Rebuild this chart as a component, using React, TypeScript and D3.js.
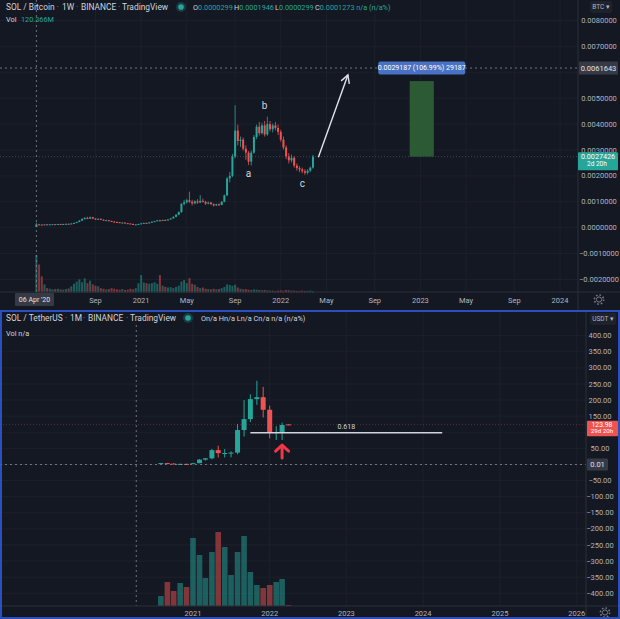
import React from "react";
import * as d3 from "d3";

// ---------------- Top chart: SOL / Bitcoin, 1W (prices in satoshi = 1e-8 BTC) ----------------
const topFirstWeek = "2020-04-06";
const wOpen = [2990,12730,12000,11500,13000,12400,13200,13600,13100,14200,13800,14400,15000,14600,16200,18400,22000,27500,34000,38000,35000,40500,35000,33000,34500,31000,28500,29000,26000,23500,22000,21000,19000,19800,17500,16200,14500,12000,12800,14500,16800,18500,17200,20500,23000,25500,28500,26500,30000,28500,32000,36000,42000,50000,60000,92000,98000,106000,100000,94000,102000,97000,104000,100000,93000,97000,91000,86000,90000,88000,100000,125000,190000,200000,275000,375000,335000,340000,305000,290000,255000,290000,350000,390000,365000,395000,360000,400000,380000,395000,385000,370000,340000,310000,275000,260000,270000,240000,230000,225000,218000,212000,220000,232000];
const wHigh = [19460,14500,13000,13800,14000,13600,14200,14500,14600,15200,14900,15600,16200,16800,19000,23000,29000,36000,41000,42000,43000,42000,37000,36000,35500,32500,30500,30000,27000,25000,23500,22000,20500,20500,18500,17000,15500,13500,15000,17500,19500,19800,21000,24000,26500,30000,30500,31000,31500,33000,37000,44000,52000,63000,95000,108000,112000,139000,108000,106000,110000,126000,112000,104000,101000,100000,94000,93000,94000,103000,128000,195000,215000,285000,473000,398000,352000,348000,318000,296000,298000,358000,398000,408000,405000,412000,429000,412000,402000,408000,398000,378000,352000,318000,288000,282000,276000,248000,238000,232000,226000,226000,236000,281000];
const wLow = [2990,10800,11000,11200,12000,11900,12600,12800,12700,13500,13100,13900,14200,14100,15800,17600,21000,26000,31000,33000,34000,33000,31000,31500,29500,27500,26500,25000,22500,21000,20000,18500,17500,17000,15800,14000,11000,11000,12200,13800,15500,16500,16800,19500,21500,24500,25000,25500,27500,27800,31000,35000,40000,48000,58000,86000,94000,96000,86000,90000,92000,95000,97000,88000,90000,88000,82000,84000,85000,87000,98000,122000,175000,195000,268000,318000,312000,298000,262000,242000,240000,286000,342000,356000,360000,352000,355000,372000,368000,376000,358000,332000,302000,265000,248000,252000,232000,220000,214000,210000,204000,206000,214000,228000];
const wClose = [12730,12000,11500,13000,12400,13200,13600,13100,14200,13800,14400,15000,14600,16200,18400,22000,27500,34000,38000,35000,40500,35000,33000,34500,31000,28500,29000,26000,23500,22000,21000,19000,19800,17500,16200,14500,12000,12800,14500,16800,18500,17200,20500,23000,25500,28500,26500,30000,28500,32000,36000,42000,50000,60000,92000,98000,106000,100000,94000,102000,97000,104000,100000,93000,97000,91000,86000,90000,88000,100000,125000,190000,200000,275000,375000,335000,340000,305000,290000,255000,290000,350000,390000,365000,395000,360000,400000,380000,395000,385000,370000,340000,310000,275000,260000,270000,240000,230000,225000,218000,212000,220000,232000,274260];
const wVolM = [120.366,90,52,26,14,12,10,11,12,10,9,11,13,20,28,35,42,33,45,30,38,26,22,20,14,12,10,11,14,12,10,9,11,8,9,12,10,14,30,56,32,30,28,30,33,28,56,22,18,16,17,14,18,22,35,40,30,46,28,25,18,14,16,12,11,10,12,10,11,14,18,26,24,22,25,16,12,10,11,9,8,10,9,8,7,8,7,6,6,5,6,7,6,8,7,6,6,5,5,6,5,5,6,4];

const topPriceTicks = [0.008, 0.007, 0.005, 0.004, 0.003, 0.002, 0.001, 0, -0.001, -0.002];
const topGridTicks = [0.008, 0.007, 0.006, 0.005, 0.004, 0.003, 0.002, 0.001, 0, -0.001, -0.002];
const topTimeTicks = ["2020-09-07","2021-01-04","2021-05-03","2021-09-06","2022-01-03","2022-05-02","2022-09-05","2023-01-02","2023-05-01","2023-09-04","2024-01-01"];
const topTimeLabels = ["Sep","2021","May","Sep","2022","May","Sep","2023","May","Sep","2024"];
const topLastPrice = 0.0027426;
const topCrossPrice = 0.0061643;
const topCrossDate = "2020-04-06";
const waveLabels = ["a", "b", "c"];
const waveDates = ["2021-10-11", "2021-11-22", "2022-02-28"];
const wavePrices = [0.0021, 0.0047, 0.0017];
const arrowDates = ["2022-04-11", "2022-06-27"];
const arrowPrices = [0.00272, 0.0059];
const targetDates = ["2022-12-05", "2023-02-06"];
const targetPrices = [0.0027426, 0.0056613];
const targetLabel = "0.0029187 (106.99%) 29187";

// ---------------- Bottom chart: SOL / TetherUS, 1M ----------------
const months = ["2020-08","2020-09","2020-10","2020-11","2020-12","2021-01","2021-02","2021-03","2021-04","2021-05","2021-06","2021-07","2021-08","2021-09","2021-10","2021-11","2021-12","2022-01","2022-02","2022-03","2022-04"];
const mOpen = [2.85,4.47,2.96,1.73,1.93,1.51,4.10,15.2,19.2,44.6,35.4,35.7,36.9,107,141,203,209,170,99,101,124.5];
const mHigh = [4.99,5.0,3.22,2.6,2.46,5.13,16.7,19.9,48.4,58.4,47.9,40.9,126,200,218,260,241,183,119,130,125.2];
const mLow = [2.5,2.33,1.6,1.26,1.05,1.46,3.96,12.1,15.9,21.6,21.7,22.3,31.6,87,132,185,146,81,76,76,123.4];
const mClose = [4.47,2.96,1.73,1.93,1.51,4.10,15.2,19.2,44.6,35.4,35.7,36.9,107,141,203,209,170,99,101,122.7,123.98];
const mVolM = [10,24,15,23,19,68,51,28,54,74,59,31,54,70,34,21,18,21,24,27,1];

const botPriceTicks = [400,350,300,250,200,150,50,-50,-100,-150,-200,-250,-300,-350,-400];
const botGridTicks = [400,350,300,250,200,150,100,50,0,-50,-100,-150,-200,-250,-300,-350,-400];
const botTimeTicks = ["2021-01-01","2022-01-01","2023-01-01","2024-01-01","2025-01-01","2026-01-01"];
const botTimeLabels = ["2021","2022","2023","2024","2025","2026"];
const botLastPrice = 123.98;
const botCrossPrice = 0.01;
const botCrossDate = "2020-04-06";
const fibLevel = 98.8;
const fibLabel = "0.618";
const fibDates = ["2021-10-01", "2024-04-01"];
const redArrowDate = "2022-03-01";
const redArrowPrices = [20, 60];

// ---------------- Styles ----------------
const BG = "#141823";
const GRID = "#1c202b";
const UP = "#26a69a";
const DOWN = "#ef5350";
const TXT = "#d1d4dc";
const AXT = "#b2b5be";
const FONT = "Roboto, 'Noto Sans', sans-serif";
const HFS = 8.4;

const pd = (s: string) => new Date(s.length === 7 ? s + "-01T00:00:00Z" : s + "T00:00:00Z");

function Gear({ x, y }: { x: number; y: number }) {
  return (
    <g transform={`translate(${x},${y})`}>
      <circle r={2.6} fill="none" stroke="#787b86" strokeWidth={1} />
      <circle r={4.6} fill="none" stroke="#787b86" strokeWidth={1.6} strokeDasharray="1.6 2" />
    </g>
  );
}

export default function App() {
  const xTop = d3.scaleUtc().domain([pd("2020-04-06"), pd("2022-01-01")]).range([36.4, 280]);
  const yTop = d3.scaleLinear().domain([0, 0.008]).range([227.7, 20.5]);
  const vTop = d3.scaleLinear().domain([0, d3.max(wVolM) as number]).range([292.5, 255]);
  const topPlotR = 578;
  const topPlotB = 292;

  const xBot = d3.scaleUtc().domain([pd("2021-01-01"), pd("2022-01-01")]).range([193, 269.7]);
  const yBot = d3.scaleLinear().domain([0, 400]).range([464.5, 335.7]);
  const vBot = d3.scaleLinear().domain([0, d3.max(mVolM) as number]).range([606, 532]);
  const botPlotR = 586;
  const botPlotT = 311;
  const botPlotB = 606;

  const weeks = wClose.map((_, i) => d3.utcDay.offset(pd(topFirstWeek), 7 * i));
  const sat = (v: number) => v * 1e-8;

  const fmt7 = (v: number) => (v < 0 ? "\u2212" : "") + Math.abs(v).toFixed(7);
  const fmt2 = (v: number) => (v < 0 ? "\u2212" : "") + Math.abs(v).toFixed(2);

  const ax0 = xTop(pd(arrowDates[0])), ay0 = yTop(arrowPrices[0]);
  const ax1 = xTop(pd(arrowDates[1])), ay1 = yTop(arrowPrices[1]);
  const ang = Math.atan2(ay1 - ay0, ax1 - ax0);
  const hl = 9, ha = 0.5;
  const h1 = [ax1 - hl * Math.cos(ang - ha), ay1 - hl * Math.sin(ang - ha)];
  const h2 = [ax1 - hl * Math.cos(ang + ha), ay1 - hl * Math.sin(ang + ha)];

  const tx0 = xTop(pd(targetDates[0])), tx1 = xTop(pd(targetDates[1]));
  const ty0 = yTop(targetPrices[1]), ty1 = yTop(targetPrices[0]);

  const rax = xBot(pd(redArrowDate));
  const rayB = yBot(redArrowPrices[0]), rayT = yBot(redArrowPrices[1]);

  const yLT = yTop(topLastPrice);
  const yLB = yBot(botLastPrice);

  return (
    <svg width={620} height={619} style={{ position: "absolute", left: 0, top: 0, background: BG }} fontFamily={FONT}>
      <rect x={0} y={0} width={620} height={619} fill={BG} />

      {/* ================= TOP CHART ================= */}
      <g>
        {topGridTicks.map((t) => (
          <line key={"tg" + t} x1={0} x2={topPlotR} y1={yTop(t)} y2={yTop(t)} stroke={GRID} />
        ))}
        {topTimeTicks.map((t) => (
          <line key={"tv" + t} x1={xTop(pd(t))} x2={xTop(pd(t))} y1={0} y2={topPlotB} stroke={GRID} />
        ))}
        <line x1={0} x2={topPlotR} y1={yLT} y2={yLT} stroke="#5d6470" strokeOpacity={0.6} strokeDasharray="1 2" />
        {wVolM.map((v, i) => {
          const x = xTop(weeks[i]);
          const up = wClose[i] >= wOpen[i];
          return <rect key={"wv" + i} x={x - 1} y={vTop(v)} width={2} height={vTop(0) - vTop(v)} fill={up ? UP : DOWN} fillOpacity={0.5} />;
        })}
        {wClose.map((c, i) => {
          const x = xTop(weeks[i]);
          const o = wOpen[i];
          const up = c >= o;
          const col = up ? UP : DOWN;
          const yT = yTop(sat(Math.max(o, c)));
          const yB = yTop(sat(Math.min(o, c)));
          return (
            <g key={"wc" + i}>
              <line x1={x} x2={x} y1={yTop(sat(wHigh[i]))} y2={yTop(sat(wLow[i]))} stroke={col} strokeWidth={0.8} />
              <rect x={x - 1} y={yT} width={2} height={Math.max(1, yB - yT)} fill={col} />
            </g>
          );
        })}
        {waveLabels.map((l, i) => (
          <text key={"wl" + l} x={xTop(pd(waveDates[i]))} y={yTop(wavePrices[i])} fill={TXT} fontSize={10} textAnchor="middle" dominantBaseline="central">{l}</text>
        ))}
        <line x1={ax0} y1={ay0} x2={ax1} y2={ay1} stroke="#e0e3eb" strokeWidth={1.4} />
        <polyline points={`${h1[0]},${h1[1]} ${ax1},${ay1} ${h2[0]},${h2[1]}`} fill="none" stroke="#e0e3eb" strokeWidth={1.4} />
        <rect x={tx0} y={ty0} width={tx1 - tx0} height={ty1 - ty0} fill="#2c5a35" />
        <line x1={0} x2={topPlotR} y1={yTop(topCrossPrice)} y2={yTop(topCrossPrice)} stroke="#9598a1" strokeOpacity={0.7} strokeDasharray="2 3" />
        <line x1={xTop(pd(topCrossDate))} x2={xTop(pd(topCrossDate))} y1={0} y2={topPlotB} stroke="#9598a1" strokeOpacity={0.7} strokeDasharray="2 3" />
        <rect x={(tx0 + tx1) / 2 - 43.5} y={yTop(topCrossPrice) - 6.5} width={87} height={13} rx={2} fill="#4a72c4" />
        <text x={(tx0 + tx1) / 2} y={yTop(topCrossPrice)} fill="#ffffff" fontSize={7} textAnchor="middle" dominantBaseline="central">{targetLabel}</text>

        <line x1={topPlotR} x2={topPlotR} y1={0} y2={310} stroke="#2a2e39" />
        <line x1={0} x2={620} y1={topPlotB} y2={topPlotB} stroke="#2a2e39" />

        {topPriceTicks.map((t) => (
          <text key={"tp" + t} x={599} y={yTop(t)} fill={AXT} fontSize={7.5} textAnchor="middle" dominantBaseline="central">{fmt7(t)}</text>
        ))}
        <rect x={579} y={yTop(topCrossPrice) - 6.5} width={39} height={13} fill="#363a45" />
        <text x={598.5} y={yTop(topCrossPrice)} fill="#e0e3eb" fontSize={7.5} textAnchor="middle" dominantBaseline="central">{fmt7(topCrossPrice)}</text>
        <rect x={578} y={yLT - 4.5} width={40} height={18} rx={1} fill={UP} />
        <text x={598} y={yLT} fill="#ffffff" fontSize={7.2} textAnchor="middle" dominantBaseline="central">{fmt7(topLastPrice)}</text>
        <text x={587} y={yLT + 7.5} fill="#ffffff" fontSize={6.5} dominantBaseline="central">2d 20h</text>
        <rect x={590} y={1} width={22} height={12} rx={2} fill="#1e222d" />
        <text x={601} y={7} fill={AXT} fontSize={6.5} textAnchor="middle" dominantBaseline="central">BTC ▾</text>

        {topTimeTicks.map((t, i) => (
          <text key={"tt" + t} x={xTop(pd(t))} y={300} fill={AXT} fontSize={7.5} textAnchor="middle" dominantBaseline="central">{topTimeLabels[i]}</text>
        ))}
        <rect x={15} y={293} width={39} height={13} rx={1} fill="#363a45" />
        <text x={34.5} y={299.5} fill="#e0e3eb" fontSize={7} textAnchor="middle" dominantBaseline="central">06 Apr '20</text>
        <Gear x={599} y={299.5} />

        <text x={6} y={7} fontSize={HFS} fill={TXT} dominantBaseline="central">SOL / Bitcoin</text>
        <text x={57.5} y={7} fontSize={HFS} fill="#787b86" textAnchor="middle" dominantBaseline="central">·</text>
        <text x={62} y={7} fontSize={HFS} fill={TXT} dominantBaseline="central">1W</text>
        <text x={77} y={7} fontSize={HFS} fill="#787b86" textAnchor="middle" dominantBaseline="central">·</text>
        <text x={81} y={7} fontSize={HFS} fill={TXT} dominantBaseline="central">BINANCE</text>
        <text x={119} y={7} fontSize={HFS} fill="#787b86" textAnchor="middle" dominantBaseline="central">·</text>
        <text x={122} y={7} fontSize={HFS} fill={TXT} dominantBaseline="central">TradingView</text>
        <circle cx={181} cy={7} r={5} fill={UP} fillOpacity={0.25} />
        <circle cx={181} cy={7} r={2.8} fill={UP} />
        <text y={7} fontSize={7.3} fill={TXT} dominantBaseline="central">
          <tspan x={193}>O</tspan><tspan fill={UP}>{fmt7(sat(wOpen[0]))}</tspan>
          <tspan x={234}>H</tspan><tspan fill={UP}>{fmt7(sat(wHigh[0]))}</tspan>
          <tspan x={275}>L</tspan><tspan fill={UP}>{fmt7(sat(wLow[0]))}</tspan>
          <tspan x={315}>C</tspan><tspan fill={UP}>{fmt7(sat(wClose[0]))}</tspan>
          <tspan fill={UP}> n/a (n/a%)</tspan>
        </text>
        <text x={6} y={19.5} fontSize={7.3} fill={TXT} dominantBaseline="central">Vol</text>
        <text x={21} y={19.5} fontSize={7.3} fill={UP} dominantBaseline="central">{wVolM[0].toFixed(3)}M</text>
      </g>

      {/* ================= BOTTOM CHART ================= */}
      <g>
        {botGridTicks.map((t) => (
          <line key={"bg" + t} x1={0} x2={botPlotR} y1={yBot(t)} y2={yBot(t)} stroke={GRID} />
        ))}
        {botTimeTicks.map((t) => (
          <line key={"bv" + t} x1={xBot(pd(t))} x2={xBot(pd(t))} y1={botPlotT} y2={botPlotB} stroke={GRID} />
        ))}
        <line x1={0} x2={botPlotR} y1={yLB} y2={yLB} stroke={DOWN} strokeOpacity={0.3} strokeDasharray="1 2" />
        {mVolM.map((v, i) => {
          const x = xBot(pd(months[i]));
          const up = mClose[i] >= mOpen[i];
          return <rect key={"mv" + i} x={x - 2.8} y={vBot(v)} width={5.6} height={vBot(0) - vBot(v)} fill={up ? UP : DOWN} fillOpacity={0.5} />;
        })}
        {mClose.map((c, i) => {
          const x = xBot(pd(months[i]));
          const o = mOpen[i];
          const up = c >= o;
          const col = up ? UP : DOWN;
          const yT = yBot(Math.max(o, c));
          const yB = yBot(Math.min(o, c));
          return (
            <g key={"mc" + i}>
              <line x1={x} x2={x} y1={yBot(mHigh[i])} y2={yBot(mLow[i])} stroke={col} strokeWidth={1} />
              <rect x={x - 2.5} y={yT} width={5} height={Math.max(1, yB - yT)} fill={col} />
            </g>
          );
        })}
        <line x1={xBot(pd(fibDates[0]))} x2={xBot(pd(fibDates[1]))} y1={yBot(fibLevel)} y2={yBot(fibLevel)} stroke="#d1d4dc" strokeWidth={1.6} />
        <text x={(xBot(pd(fibDates[0])) + xBot(pd(fibDates[1]))) / 2} y={yBot(fibLevel) - 4} fill={TXT} fontSize={7} textAnchor="middle">{fibLabel}</text>
        <line x1={rax} x2={rax} y1={rayB} y2={rayT + 1} stroke="#f23645" strokeWidth={3} strokeLinecap="round" />
        <polyline points={`${rax - 6.5},${rayT + 6} ${rax},${rayT} ${rax + 6.5},${rayT + 6}`} fill="none" stroke="#f23645" strokeWidth={3} strokeLinecap="round" strokeLinejoin="round" />
        <line x1={0} x2={botPlotR} y1={yBot(botCrossPrice)} y2={yBot(botCrossPrice)} stroke="#9598a1" strokeOpacity={0.7} strokeDasharray="2 3" />
        <line x1={xBot(pd(botCrossDate))} x2={xBot(pd(botCrossDate))} y1={325} y2={botPlotB} stroke="#9598a1" strokeOpacity={0.7} strokeDasharray="2 3" />

        <line x1={botPlotR} x2={botPlotR} y1={botPlotT} y2={619} stroke="#2a2e39" />
        <line x1={0} x2={620} y1={botPlotB} y2={botPlotB} stroke="#2a2e39" />

        {botPriceTicks.map((t) => (
          <text key={"bp" + t} x={600} y={yBot(t)} fill={AXT} fontSize={7.5} textAnchor="middle" dominantBaseline="central">{fmt2(t)}</text>
        ))}
        <rect x={587} y={yLB - 3.8} width={31} height={15.5} rx={1} fill={DOWN} />
        <text x={602} y={yLB} fill="#ffffff" fontSize={6.8} textAnchor="middle" dominantBaseline="central">{fmt2(botLastPrice)}</text>
        <text x={602} y={yLB + 6.6} fill="#ffffff" fontSize={6.2} textAnchor="middle" dominantBaseline="central">29d 20h</text>
        <rect x={587} y={yBot(botCrossPrice) - 6} width={21} height={12} rx={1} fill="#363a45" />
        <text x={597.5} y={yBot(botCrossPrice)} fill="#e0e3eb" fontSize={7.5} textAnchor="middle" dominantBaseline="central">{botCrossPrice.toFixed(2)}</text>
        <rect x={590} y={313} width={26} height={12} rx={2} fill="#1e222d" />
        <text x={603} y={319} fill={AXT} fontSize={6.5} textAnchor="middle" dominantBaseline="central">USDT ▾</text>

        {botTimeTicks.map((t, i) => (
          <text key={"bt" + t} x={xBot(pd(t))} y={613} fill={AXT} fontSize={7.5} textAnchor="middle" dominantBaseline="central">{botTimeLabels[i]}</text>
        ))}
        <Gear x={605} y={612.5} />

        <text x={6} y={318} fontSize={HFS} fill={TXT} dominantBaseline="central">SOL / TetherUS</text>
        <text x={66} y={318} fontSize={HFS} fill="#787b86" textAnchor="middle" dominantBaseline="central">·</text>
        <text x={70} y={318} fontSize={HFS} fill={TXT} dominantBaseline="central">1M</text>
        <text x={84} y={318} fontSize={HFS} fill="#787b86" textAnchor="middle" dominantBaseline="central">·</text>
        <text x={88} y={318} fontSize={HFS} fill={TXT} dominantBaseline="central">BINANCE</text>
        <text x={127} y={318} fontSize={HFS} fill="#787b86" textAnchor="middle" dominantBaseline="central">·</text>
        <text x={130} y={318} fontSize={HFS} fill={TXT} dominantBaseline="central">TradingView</text>
        <circle cx={188} cy={318} r={5} fill={UP} fillOpacity={0.25} />
        <circle cx={188} cy={318} r={2.8} fill={UP} />
        <text x={201} y={318} fontSize={7.3} fill={TXT} dominantBaseline="central">On/a Hn/a Ln/a Cn/a n/a (n/a%)</text>
        <text x={6} y={333} fontSize={7.3} fill={TXT} dominantBaseline="central">Vol  n/a</text>

        <rect x={1} y={311} width={618} height={307} fill="none" stroke="#2f5bd8" strokeWidth={2} strokeOpacity={0.85} />
      </g>
    </svg>
  );
}
